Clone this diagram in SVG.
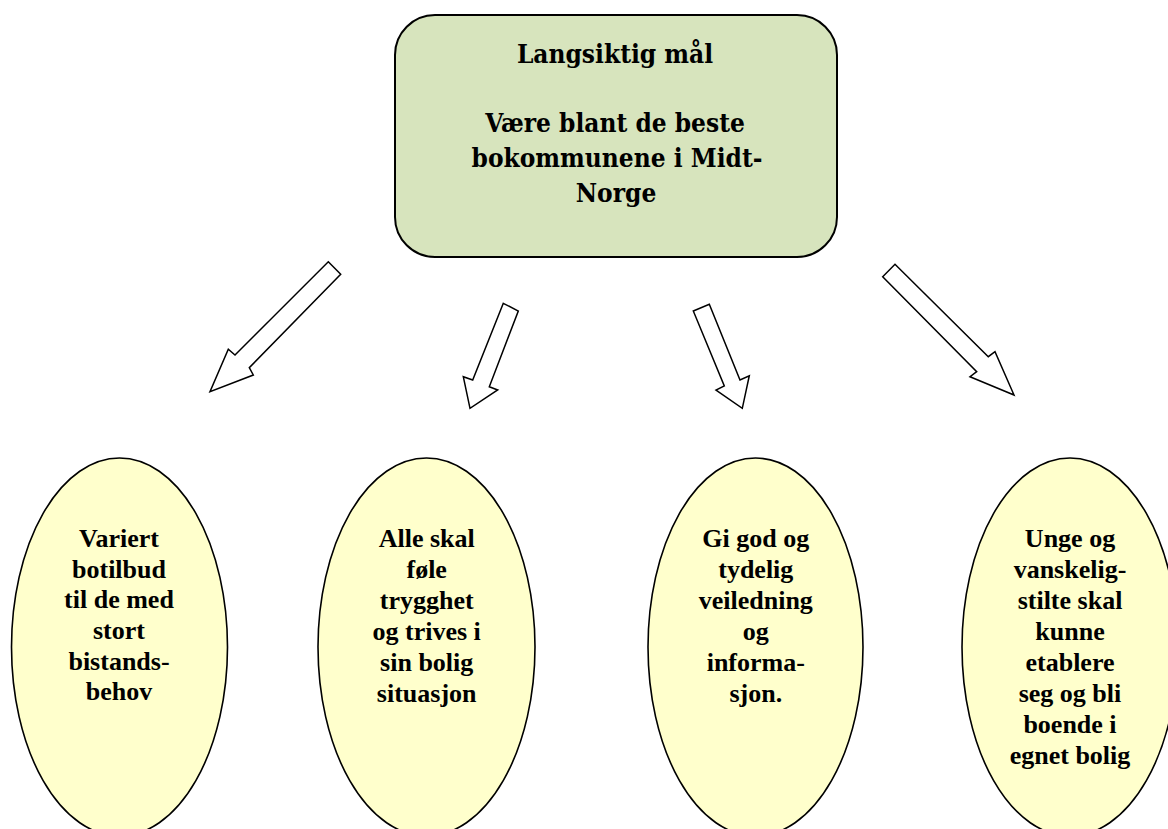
<svg xmlns="http://www.w3.org/2000/svg" width="1168" height="829" viewBox="0 0 1168 829">
<style>
.box{fill:#d7e4bd;stroke:#000;stroke-width:2}
.ell{fill:#ffffcc;stroke:#000;stroke-width:1.6}
.arr{fill:#fff;stroke:#000;stroke-width:1.5;stroke-linejoin:miter}
.tt{font-family:"DejaVu Serif Condensed","DejaVu Serif","Liberation Serif",serif;font-stretch:condensed;font-weight:bold;font-size:26px;fill:#000;text-anchor:middle}
.et{font-family:"Liberation Serif","Times New Roman",serif;font-weight:bold;font-size:26px;fill:#000;text-anchor:middle}
</style>
<rect width="1168" height="829" fill="#fff"/>
<g id="goal">
<rect class="box" x="395" y="15" width="442" height="242" rx="40" ry="40"/>
<text class="tt" x="615" y="63">Langsiktig mål</text>
<text class="tt" x="615" y="132">Være blant de beste</text>
<text class="tt" x="617" y="167">bokommunene i Midt-</text>
<text class="tt" x="616" y="202">Norge</text>
</g>
<g id="connectors">
<polygon class="arr" points="328.3,261.7 340.7,274.3 249.3,367.7 253.3,375 210,391.7 228.3,349.3 235,355"/>
<polygon class="arr" points="503.3,303.3 518.3,311 489.3,386.7 497.7,390 470,408.3 463.3,376.7 472.7,380"/>
<polygon class="arr" points="693.3,311 709.3,304.3 740,380 749.3,375.7 742.3,408.3 716,390 724.3,386"/>
<polygon class="arr" points="882.7,276.7 895,264.3 988.3,356.7 995,351.7 1014,395 970,376.7 976.7,371.7"/>
</g>
<g id="node1">
<ellipse class="ell" cx="119.5" cy="647" rx="108" ry="189"/>
<text class="et" x="119" y="547">Variert</text>
<text class="et" x="119" y="577.7">botilbud</text>
<text class="et" x="119" y="608.4">til de med</text>
<text class="et" x="119" y="639">stort</text>
<text class="et" x="119" y="669.7">bistands-</text>
<text class="et" x="119" y="700.4">behov</text>
</g>
<g id="node2">
<ellipse class="ell" cx="426.5" cy="647" rx="108.5" ry="189"/>
<text class="et" x="426.7" y="547">Alle skal</text>
<text class="et" x="426.7" y="578">føle</text>
<text class="et" x="426.7" y="609">trygghet</text>
<text class="et" x="426.7" y="640">og trives i</text>
<text class="et" x="426.7" y="671">sin bolig</text>
<text class="et" x="426.7" y="702">situasjon</text>
</g>
<g id="node3">
<ellipse class="ell" cx="755.5" cy="647" rx="107.5" ry="189"/>
<text class="et" x="755.8" y="547">Gi god og</text>
<text class="et" x="755.8" y="578">tydelig</text>
<text class="et" x="755.8" y="609">veiledning</text>
<text class="et" x="755.8" y="640">og</text>
<text class="et" x="755.8" y="671">informa-</text>
<text class="et" x="755.8" y="702">sjon.</text>
</g>
<g id="node4">
<ellipse class="ell" cx="1070" cy="647" rx="108" ry="189"/>
<text class="et" x="1070" y="547">Unge og</text>
<text class="et" x="1070" y="578">vanskelig-</text>
<text class="et" x="1070" y="609">stilte skal</text>
<text class="et" x="1070" y="640">kunne</text>
<text class="et" x="1070" y="671">etablere</text>
<text class="et" x="1070" y="702">seg og bli</text>
<text class="et" x="1070" y="733">boende i</text>
<text class="et" x="1070" y="764">egnet bolig</text>
</g>
</svg>
